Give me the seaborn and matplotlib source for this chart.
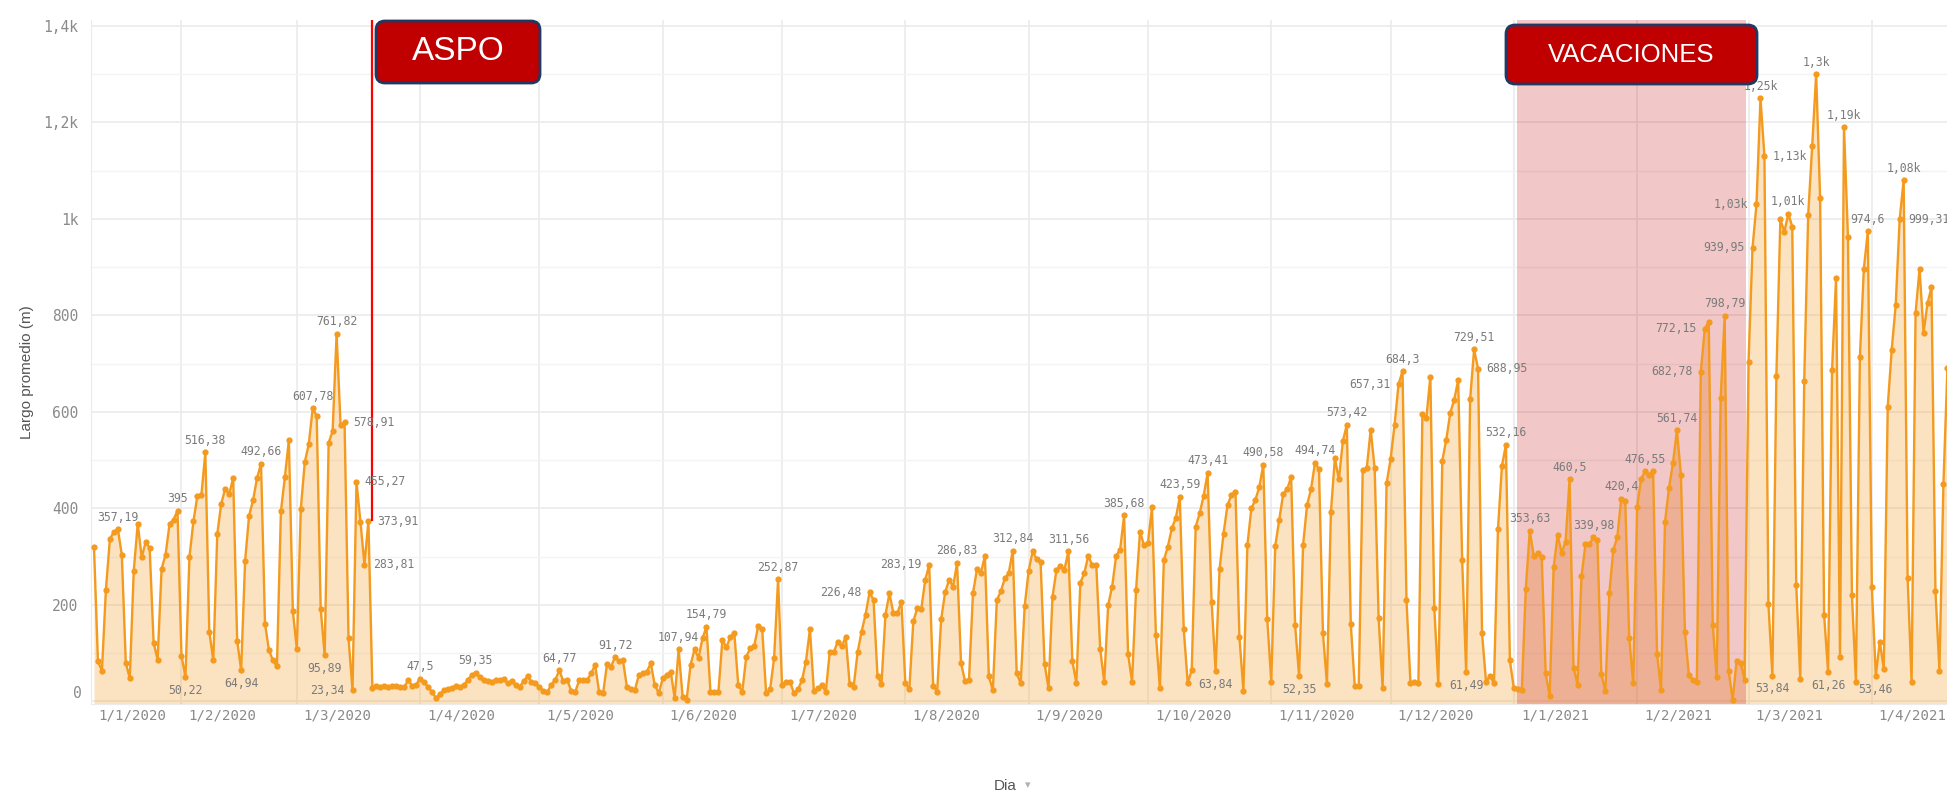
import numpy as np
import pandas as pd
import matplotlib
matplotlib.use("Agg")
import matplotlib.pyplot as plt
import matplotlib.dates as mdates
from matplotlib.patches import FancyBboxPatch
import seaborn as sns

# Largo promedio diario (m), desde el 10/1/2020
inicio = "2020-01-10"
ene_2020 = [320, 83, 64, 232, 337, 351, 357.19, 304, 80, 48, 271, 368, 299, 330, 318, 121, 87,
            275, 304, 368, 377, 395]
feb_2020 = [95, 50.22, 299, 373, 426, 427, 516.38, 144, 85, 347, 410, 441, 430, 463, 126, 64.94,
            292, 385, 417, 463, 492.66, 161, 106, 85, 73, 394, 465, 542, 187]
mar_2020 = [109, 399, 496, 533, 607.78, 591, 192, 95.89, 536, 560, 761.82, 572, 578.91, 131, 23.34,
            455.27, 372, 283.81, 373.91, 27, 32, 30, 33, 31, 32, 33, 31, 30, 44, 33, 35]
abr_2020 = [47.5, 40, 30, 20, 7, 15, 24, 26, 27, 33, 30, 34, 45, 55, 59.35, 50, 45, 42, 40, 45,
            44, 47, 38, 42, 35, 30, 42, 52, 40, 38]
may_2020 = [30, 22, 20, 35, 45, 64.77, 42, 44, 22, 20, 44, 45, 45, 58, 76, 20, 17, 78, 72, 91.72,
            84, 85, 30, 26, 24, 55, 58, 62, 79, 34, 17]
jun_2020 = [48, 55, 62, 7, 107.94, 10, 3, 76, 108, 90, 131, 154.79, 20, 20, 20, 128, 112, 134, 141,
            34, 20, 93, 110, 115, 156, 151, 17, 25, 90, 252.87]
jul_2020 = [34, 41, 41, 17, 25, 44, 82, 150, 22, 27, 34, 20, 103, 102, 124, 114, 134, 36, 31, 102,
            145, 180, 226.48, 210, 53, 36, 180, 224, 183, 183, 207]
ago_2020 = [38, 25, 166, 193, 191, 252, 283.19, 32, 20, 170, 226, 252, 238, 286.83, 79, 43, 44, 224,
            274, 266, 302, 52, 23, 210, 228, 255, 266, 312.84, 58, 38, 197]
sep_2020 = [271, 311, 295, 289, 78, 27, 217, 273, 281, 273, 311.56, 83, 38, 246, 266, 302, 282, 283,
            108, 41, 200, 238, 302, 314, 385.68, 98, 41, 230, 352, 324]
oct_2020 = [328, 402, 138, 27, 293, 321, 359, 380, 423.59, 150, 38, 65, 362, 390, 426, 473.41, 207,
            63.84, 274, 348, 407, 428, 435, 133, 22, 324, 400, 418, 444, 490.58, 170]
nov_2020 = [41, 322, 376, 430, 440, 465, 158, 52.35, 324, 407, 440, 494.74, 481, 141, 36, 393, 504,
            460, 539, 573.42, 160, 32, 32, 480, 483, 563, 483, 172, 27, 452]
dic_2020 = [502, 573, 657.31, 684.3, 210, 38, 41, 39, 596, 587, 673, 193, 36, 499, 542, 598, 625,
            666, 293, 61.49, 626, 729.51, 688.95, 141, 41, 53, 38, 357, 488, 532.16, 85]
ene_2021 = [27, 25, 24, 234, 353.63, 302, 307, 299, 58, 11, 278, 345, 308, 331, 460.5, 70, 35, 259,
            326, 326, 339.98, 334, 56, 21, 224, 314, 340, 420.4, 416, 132, 38]
feb_2021 = [404, 462, 476.55, 470, 478, 98, 24, 372, 442, 494, 561.74, 470, 145, 54, 45, 41, 682.78,
            772.15, 787, 159, 50, 629, 798.79, 64, 3, 84, 80, 45]
mar_2021 = [703, 939.95, 1030, 1250, 1130, 202, 53.84, 674, 999, 973, 1010, 984, 241, 47, 664, 1008,
            1150, 1300, 1043, 180, 61.26, 686, 877, 93, 1190, 962, 220, 41, 714, 897, 974.6]
abr_2021 = [237, 53.46, 124, 67, 611, 729, 821, 999.31, 1080, 256, 41, 805, 897, 764, 825, 858, 228,
            64, 450, 690]

valores = (ene_2020 + feb_2020 + mar_2020 + abr_2020 + may_2020 + jun_2020 + jul_2020 + ago_2020
           + sep_2020 + oct_2020 + nov_2020 + dic_2020 + ene_2021 + feb_2021 + mar_2021 + abr_2021)
fechas = pd.date_range(inicio, periods=len(valores), freq="D")
df = pd.DataFrame({"Dia": fechas, "Largo": valores})

# etiquetas de valores: fecha, texto, lado (a=arriba, b=abajo, d=derecha, i=izquierda)
etiquetas = [
    ("2020-01-16", "357,19", "a"), ("2020-01-31", "395", "a"), ("2020-02-02", "50,22", "b"),
    ("2020-02-07", "516,38", "a"), ("2020-02-16", "64,94", "b"), ("2020-02-21", "492,66", "a"),
    ("2020-03-05", "607,78", "a"), ("2020-03-08", "95,89", "b"), ("2020-03-11", "761,82", "a"),
    ("2020-03-13", "578,91", "d"), ("2020-03-15", "23,34", "i"), ("2020-03-16", "455,27", "d"),
    ("2020-03-18", "283,81", "d"), ("2020-03-19", "373,91", "d"), ("2020-04-01", "47,5", "a"),
    ("2020-04-15", "59,35", "a"), ("2020-05-06", "64,77", "a"), ("2020-05-20", "91,72", "a"),
    ("2020-06-05", "107,94", "a"), ("2020-06-12", "154,79", "a"), ("2020-06-30", "252,87", "a"),
    ("2020-07-23", "226,48", "i"), ("2020-08-07", "283,19", "i"), ("2020-08-14", "286,83", "a"),
    ("2020-08-28", "312,84", "a"), ("2020-09-11", "311,56", "a"), ("2020-09-25", "385,68", "a"),
    ("2020-10-09", "423,59", "a"), ("2020-10-16", "473,41", "a"), ("2020-10-18", "63,84", "b"),
    ("2020-10-30", "490,58", "a"), ("2020-11-08", "52,35", "b"), ("2020-11-12", "494,74", "a"),
    ("2020-11-20", "573,42", "a"), ("2020-12-03", "657,31", "i"), ("2020-12-04", "684,3", "a"),
    ("2020-12-20", "61,49", "b"), ("2020-12-22", "729,51", "a"), ("2020-12-23", "688,95", "d"),
    ("2020-12-30", "532,16", "a"), ("2021-01-05", "353,63", "a"), ("2021-01-15", "460,5", "a"),
    ("2021-01-21", "339,98", "a"), ("2021-01-28", "420,4", "a"), ("2021-02-03", "476,55", "a"),
    ("2021-02-11", "561,74", "a"), ("2021-02-17", "682,78", "i"), ("2021-02-18", "772,15", "i"),
    ("2021-02-23", "798,79", "a"), ("2021-03-02", "939,95", "i"), ("2021-03-03", "1,03k", "i"),
    ("2021-03-04", "1,25k", "a"), ("2021-03-05", "1,13k", "d"), ("2021-03-07", "53,84", "b"),
    ("2021-03-11", "1,01k", "a"), ("2021-03-18", "1,3k", "a"), ("2021-03-21", "61,26", "b"),
    ("2021-03-25", "1,19k", "a"), ("2021-03-31", "974,6", "a"), ("2021-04-02", "53,46", "b"),
    ("2021-04-08", "999,31", "d"), ("2021-04-09", "1,08k", "a"),
]

y_ticks = [0, 200, 400, 600, 800, 1000, 1200, 1400]
y_tick_labels = ["0", "200", "400", "600", "800", "1k", "1,2k", "1,4k"]

fecha_aspo = "2020-03-20"
vacaciones = ("2021-01-01", "2021-02-28")

naranja = "#f39a1f"
gris_txt = "#8a8a8a"
grilla = "#ebebeb"
mono = "DejaVu Sans Mono"

sns.set_style("white")
plt.rcParams["font.family"] = ["Liberation Sans", "DejaVu Sans"]

W, H = 1947, 797
fig = plt.figure(figsize=(W / 100, H / 100), dpi=100)
ax_l, ax_r, ax_t, ax_b = 91, 1947, 20, 704
ax = fig.add_axes([ax_l / W, 1 - ax_b / H, (ax_r - ax_l) / W, (ax_b - ax_t) / H])

y_min, y_max = -5.2, 1412
t0 = pd.Timestamp(inicio)
x_min = t0 - pd.Timedelta(hours=18)
x_max = t0 + pd.Timedelta(days=465.9)

# grilla
ax.set_yticks(y_ticks)
ax.set_yticks([100, 300, 500, 700, 900, 1100, 1300], minor=True)
ax.grid(axis="y", which="major", color=grilla, lw=1.2)
ax.grid(axis="y", which="minor", color="#f3f3f3", lw=1.0)
meses = pd.date_range("2020-01-01", "2021-04-01", freq="MS")
ax.set_xticks(meses)
ax.grid(axis="x", which="major", color=grilla, lw=1.2)
ax.set_axisbelow(True)

# vacaciones
ax.axvspan(pd.Timestamp(vacaciones[0]) + pd.Timedelta(hours=18),
           pd.Timestamp(vacaciones[1]) + pd.Timedelta(hours=10),
           color="#c00000", alpha=0.22, lw=0, zorder=1.5)

ax.fill_between(df["Dia"], df["Largo"], y_min, color=naranja, alpha=0.28, lw=0, zorder=1)
sns.lineplot(data=df, x="Dia", y="Largo", ax=ax, color=naranja, lw=1.7, marker="o",
             markersize=4.5, markeredgewidth=0, zorder=3)

# linea ASPO
ax.vlines(pd.Timestamp(fecha_aspo), 373.91, y_max, color="#ff0000", lw=1.6, zorder=4)

# etiquetas de datos
desp = {"a": ((0, 4), "center", "bottom"), "b": ((0, -5), "center", "top"),
        "d": ((6, 0), "left", "center"), "i": ((-6, 0), "right", "center")}
serie = df.set_index("Dia")["Largo"]
for f, txt, lado in etiquetas:
    (dx, dy), ha, va = desp[lado]
    ax.annotate(txt, (pd.Timestamp(f), serie[pd.Timestamp(f)]), xytext=(dx, dy),
                textcoords="offset points", ha=ha, va=va, fontsize=8.3, family=mono,
                color="#7a7a7a", zorder=5)

ax.set_xlim(x_min, x_max)
ax.set_ylim(y_min, y_max)

# la etiqueta del 0 va un poco mas arriba, como en el original
ax.set_yticklabels([""] + y_tick_labels[1:], family=mono, fontsize=10.5, color=gris_txt)
ax.annotate(y_tick_labels[0], (0, 0), xycoords=("axes fraction", "data"), xytext=(-6.5, 6),
            textcoords="offset points", ha="right", va="center", family=mono, fontsize=10.5,
            color=gris_txt, annotation_clip=False)
ax.tick_params(axis="y", length=0, pad=9)
ax.tick_params(axis="x", length=21, color=grilla, width=1.2, labelbottom=False)
ax.set_xlabel("")
ax.set_ylabel("")
for s in ["top", "right"]:
    ax.spines[s].set_visible(False)
ax.spines["left"].set_color(grilla)
ax.spines["bottom"].set_color(grilla)

# etiquetas de meses a la derecha de cada linea
for m in meses:
    x = max(m, x_min)
    ax.annotate(f"{m.day}/{m.month}/{m.year}", (x, 0), xycoords=("data", "axes fraction"),
                xytext=(5, -8), textcoords="offset points", ha="left", va="center",
                fontsize=10.2, family=mono, color=gris_txt, annotation_clip=False)

fig.text(27 / W, 1 - 372 / H, "Largo promedio (m)", rotation=90, ha="center", va="center",
         fontsize=11, color="#555555")
fig.text(1005 / W, 1 - 786 / H, "Dia", ha="center", va="center", fontsize=11, color="#555555")
fig.text(1028 / W, 1 - 785 / H, "▾", ha="center", va="center", fontsize=8, color="#b0b0b0",
         family="DejaVu Sans")

# recuadros ASPO y VACACIONES (coordenadas en pixeles de la figura)
for x0, y0, w, h, txt, fs in [(376, 21, 164, 62, "ASPO", 24), (1506, 25, 251, 59, "VACACIONES", 18.5)]:
    caja = FancyBboxPatch((x0 / 100, (H - y0 - h) / 100), w / 100, h / 100,
                          boxstyle="round,pad=0,rounding_size=0.09", transform=fig.dpi_scale_trans,
                          facecolor="#c00000", edgecolor="#1f3864", lw=2, zorder=10)
    fig.patches.append(caja)
    fig.text((x0 + w / 2) / W, 1 - (y0 + h / 2) / H, txt, ha="center", va="center",
             fontsize=fs, color="white", zorder=11)

fig.savefig("out.png", dpi=100)
